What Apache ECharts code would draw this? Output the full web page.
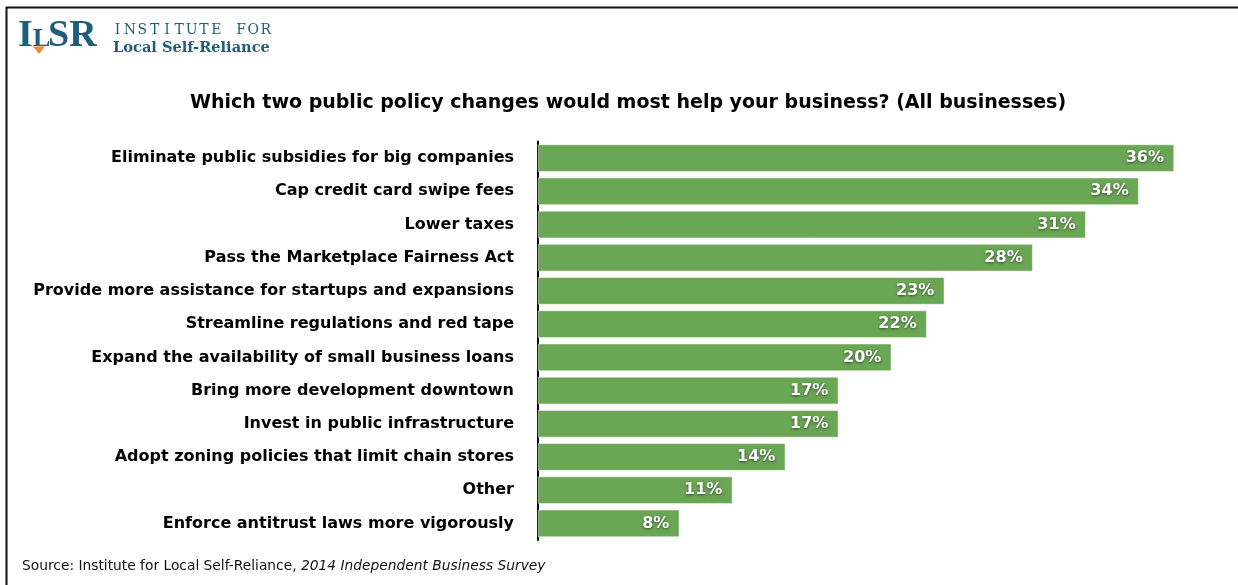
<!DOCTYPE html>
<html>
<head>
<meta charset="utf-8">
<script src="https://cdn.jsdelivr.net/npm/echarts@6/dist/echarts.min.js"></script>
<style>
  html, body { margin: 0; padding: 0; background: #ffffff; }
  #chart { width: 1238px; height: 585px; }
</style>
</head>
<body>
<div id="chart"></div>
<script>
// Survey answers, top to bottom
const categories = [
  'Eliminate public subsidies for big companies',
  'Cap credit card swipe fees',
  'Lower taxes',
  'Pass the Marketplace Fairness Act',
  'Provide more assistance for startups and expansions',
  'Streamline regulations and red tape',
  'Expand the availability of small business loans',
  'Bring more development downtown',
  'Invest in public infrastructure',
  'Adopt zoning policies that limit chain stores',
  'Other',
  'Enforce antitrust laws more vigorously'
];
// Share of businesses choosing each change (%)
const shares = [36, 34, 31, 28, 23, 22, 20, 17, 17, 14, 11, 8];

const titleText = 'Which two public policy changes would most help your business? (All businesses)';
const sourceText = 'Source: Institute for Local Self-Reliance, ';
const sourceWork = '2014 Independent Business Survey';
const orgLine1 = 'INSTITUTE FOR';
const orgLine2 = 'Local Self-Reliance';

const teal = '#1f5d7c';
const sans = '"DejaVu Sans", "Liberation Sans", Arial, sans-serif';
const slab = '"DejaVu Serif", "Liberation Serif", serif';

// letter-spaced first line of the organisation name, one centred glyph per cell
const spacedLetters = orgLine1.split('').map((ch, i) => ({
  type: 'text',
  style: { x: 117.5 + i * 12.35, y: 23, text: ch, align: 'center', verticalAlign: 'top', fill: teal, font: '14px ' + slab }
}));

const chart = echarts.init(document.getElementById('chart'));

chart.setOption({
  animation: false,
  backgroundColor: '#ffffff',
  title: {
    text: titleText,
    left: 623,
    textAlign: 'center',
    top: 89,
    textStyle: { fontFamily: sans, fontWeight: 'bold', fontSize: 19, color: '#000000' }
  },
  grid: { left: 538, top: 141.5, width: 636, height: 398.5, containLabel: false },
  xAxis: { type: 'value', min: 0, max: 36, show: false },
  yAxis: {
    type: 'category',
    data: categories,
    inverse: true,
    axisLine: { show: true, lineStyle: { color: '#000000', width: 2 } },
    axisTick: { show: false },
    axisLabel: { margin: 24, fontFamily: sans, fontWeight: 'bold', fontSize: 16, color: '#000000' }
  },
  series: [{
    type: 'bar',
    data: shares,
    barCategoryGap: '18%',
    itemStyle: { color: '#6aa755', borderColor: '#ffffff', borderWidth: 0.5 },
    label: {
      show: true,
      position: 'insideRight',
      distance: 10,
      formatter: p => p.value + '%',
      fontFamily: sans,
      fontWeight: 'bold',
      fontSize: 16,
      color: '#ffffff',
      textShadowColor: 'rgba(0,0,0,0.55)',
      textShadowBlur: 3,
      textShadowOffsetY: 1
    }
  }],
  graphic: [
    // frame lines along top and left edges
    { type: 'line', shape: { x1: 6, y1: 7.5, x2: 1238, y2: 7.5 }, style: { stroke: '#111111', lineWidth: 2 } },
    { type: 'line', shape: { x1: 6.5, y1: 7, x2: 6.5, y2: 585 }, style: { stroke: '#111111', lineWidth: 2 } },
    // ILSR wordmark
    { type: 'text', left: 18, top: 17, style: { text: 'I', fill: teal, font: 'bold 38px "Liberation Serif", "DejaVu Serif", serif' } },
    { type: 'text', left: 33, top: 26, style: { text: 'L', fill: teal, font: 'bold 26px "Liberation Serif", "DejaVu Serif", serif' } },
    { type: 'polygon', shape: { points: [[33, 46.5], [45, 46.5], [39, 54]] }, style: { fill: '#f08a3c' } },
    { type: 'text', left: 48, top: 17, style: { text: 'SR', fill: teal, font: 'bold 38px "Liberation Serif", "DejaVu Serif", serif' } }
  ].concat(spacedLetters, [
    { type: 'text', left: 113, top: 41, style: { text: orgLine2, fill: teal, font: 'bold 14.6px ' + slab } },
    // source note
    {
      type: 'text', left: 22, top: 559,
      style: {
        text: '{r|' + sourceText + '}{i|' + sourceWork + '}',
        rich: {
          r: { fontFamily: sans, fontSize: 13.8, fill: '#111111', color: '#111111' },
          i: { fontFamily: sans, fontSize: 13.8, fontStyle: 'italic', fill: '#111111', color: '#111111' }
        }
      }
    }
  ])
});
</script>
</body>
</html>
